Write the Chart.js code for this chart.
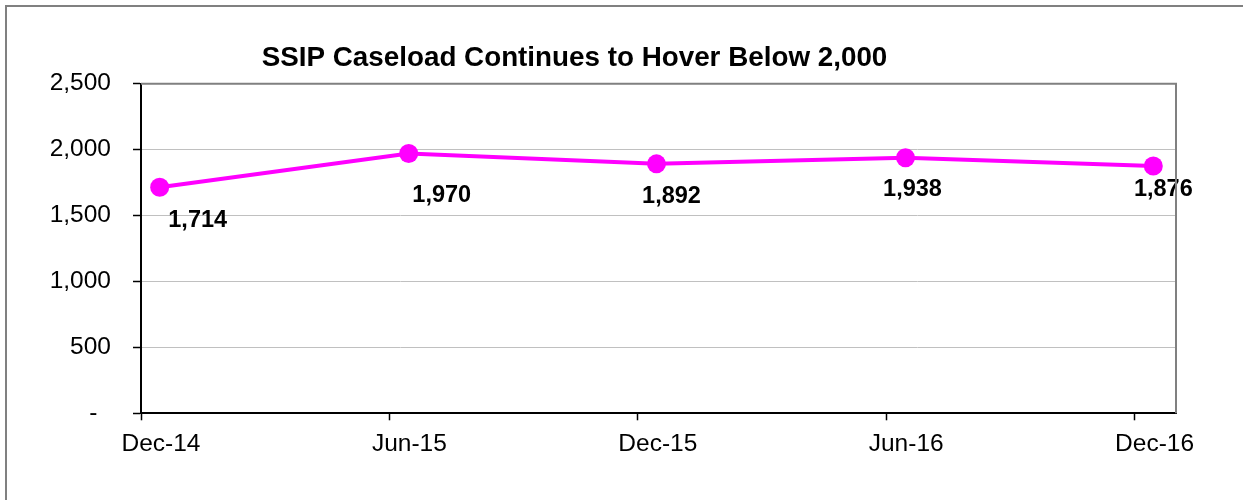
<!DOCTYPE html>
<html>
<head>
<meta charset="utf-8">
<script src="https://cdn.jsdelivr.net/npm/chart.js@4"></script>
<style>
  html, body { margin: 0; padding: 0; background: #fff; }
  #wrap { position: relative; width: 1243px; height: 500px; overflow: hidden; }
  #frame { position: absolute; left: 5px; top: 5px; width: 1300px; height: 493px;
           border-left: 2px solid #808080; border-top: 2px solid #808080;
           border-bottom: 1px solid #e6e6e6; pointer-events: none; }
  canvas { position: absolute; left: 0; top: 0; }
</style>
</head>
<body>
<div id="wrap">
  <canvas id="c" width="1243" height="500"></canvas>
  <div id="frame"></div>
</div>
<script>
// ---- data ----
const title = "SSIP Caseload Continues to Hover Below 2,000";
const categories = ["Dec-14", "Jun-15", "Dec-15", "Jun-16", "Dec-16"];
const pointDates = ["2014-12-15", "2015-06-15", "2015-12-15", "2016-06-15", "2016-12-15"];
const caseload = [1714, 1970, 1892, 1938, 1876];
const yTicks = [0, 500, 1000, 1500, 2000, 2500];

// label placement (pixel offsets from each point) - presentation only
const labelOffsets = [[38, 33], [33, 42], [15, 33], [7, 32], [10, 24]];

// months elapsed since the first axis date (Dec 1, 2014)
function monthsSinceStart(iso) {
  const [y, m, d] = iso.split("-").map(Number);
  const dim = new Date(y, m, 0).getDate();
  return (y - 2014) * 12 + (m - 12) + (d - 1) / dim;
}
const tickMonths = categories.map((_, i) => i * 6);
const points = caseload.map((v, i) => ({ x: monthsSinceStart(pointDates[i]), y: v }));

const FONT = "'Liberation Sans', Arial, sans-serif";

const framePlugin = {
  id: "framePlugin",
  afterDraw(chart) {
    const { ctx, chartArea: a } = chart;
    ctx.save();
    ctx.strokeStyle = "#808080";
    ctx.lineWidth = 2;
    ctx.beginPath();
    ctx.moveTo(a.left, a.top);
    ctx.lineTo(a.right, a.top);
    ctx.lineTo(a.right, a.bottom);
    ctx.stroke();
    ctx.restore();
  }
};

const titlePlugin = {
  id: "titlePlugin",
  afterDraw(chart) {
    const { ctx, chartArea: a } = chart;
    ctx.save();
    ctx.font = "bold 27.8px " + FONT;
    ctx.fillStyle = "#000";
    ctx.textAlign = "center";
    ctx.textBaseline = "alphabetic";
    ctx.fillText(title, a.left + 433.5, a.top - 17.5);
    ctx.restore();
  }
};

const dataLabelPlugin = {
  id: "dataLabelPlugin",
  afterDatasetsDraw(chart) {
    const { ctx } = chart;
    const meta = chart.getDatasetMeta(0);
    ctx.save();
    ctx.font = "bold 23.5px " + FONT;
    ctx.fillStyle = "#000";
    ctx.textAlign = "center";
    ctx.textBaseline = "middle";
    meta.data.forEach((pt, i) => {
      const [dx, dy] = labelOffsets[i];
      ctx.fillText(caseload[i].toLocaleString("en-US"), pt.x + dx, pt.y + dy);
    });
    ctx.restore();
  }
};

new Chart(document.getElementById("c"), {
  type: "line",
  data: {
    datasets: [{
      data: points,
      borderColor: "#FF00FF",
      backgroundColor: "#FF00FF",
      borderWidth: 4,
      pointRadius: 9.5,
      pointBorderWidth: 0,
      pointBackgroundColor: "#FF00FF",
      tension: 0,
      clip: false
    }]
  },
  options: {
    responsive: false,
    animation: false,
    events: [],
    layout: { padding: { left: 0, right: 67, top: 83.7, bottom: 0 } },
    plugins: { legend: { display: false }, tooltip: { enabled: false }, title: { display: false } },
    scales: {
      x: {
        type: "linear",
        min: 0,
        max: 25,
        afterBuildTicks(scale) { scale.ticks = tickMonths.map(v => ({ value: v })); },
        afterFit(scale) { scale.height = 500 - 413.3; },
        ticks: {
          autoSkip: false,
          maxRotation: 0,
          labelOffset: 20,
          padding: 9,
          color: "#000",
          font: { family: FONT, size: 24.5 },
          callback(value) { const i = tickMonths.indexOf(value); return i >= 0 ? categories[i] : ""; }
        },
        grid: { drawOnChartArea: false, drawTicks: true, tickLength: 7, tickColor: "#000", tickWidth: 1.5 },
        border: { display: true, color: "#000", width: 2 }
      },
      y: {
        min: 0,
        max: 2500,
        afterBuildTicks(scale) { scale.ticks = yTicks.map(v => ({ value: v })); },
        afterFit(scale) { scale.width = 141; },
        ticks: {
          color: "#000",
          padding: 22,
          font: { family: FONT, size: 24.5 },
          callback(value) { return value === 0 ? "-  " : value.toLocaleString("en-US"); }
        },
        grid: { color: "#c0c0c0", lineWidth: 1, drawTicks: true, tickLength: 8, tickColor: "#000", tickWidth: 1.5 },
        border: { display: true, color: "#000", width: 2 }
      }
    }
  },
  plugins: [framePlugin, titlePlugin, dataLabelPlugin]
});
</script>
</body>
</html>
